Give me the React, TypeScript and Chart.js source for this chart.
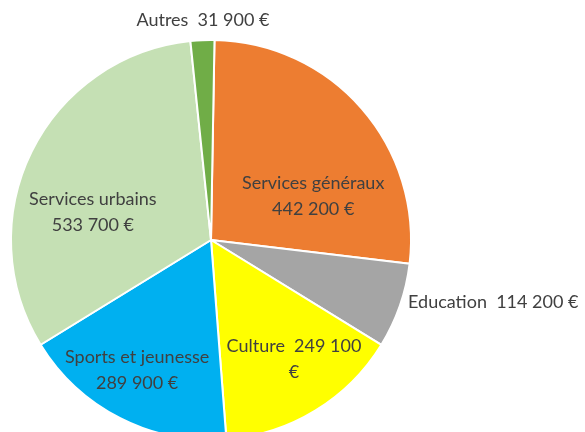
import React, { useEffect, useRef } from "react";
import { Chart, registerables } from "chart.js";

Chart.register(...registerables);

const categories = ["Services généraux", "Education", "Culture", "Sports et jeunesse", "Services urbains", "Autres"];
const values = [442200, 114200, 249100, 289900, 533700, 31900];
const colors = ["#ED7D31", "#A5A5A5", "#FFFF00", "#00B0F0", "#C5E0B4", "#70AD47"];

// label lines and polar placement (degrees clockwise from top, radius fraction)
const labelLines = [
  ["Services généraux", "442 200 €"],
  ["Education  114 200 €"],
  ["Culture  249 100", "€"],
  ["Sports et jeunesse", "289 900 €"],
  ["Services urbains", "533 700 €"],
  ["Autres  31 900 €"],
];
const labelPolar = [
  [67, 0.555],
  [102.4, 1.445],
  [145.1, 0.725],
  [209.6, 0.748],
  [283.3, 0.607],
  [357.9, 1.1],
];

const labelPlugin = {
  id: "sliceLabels",
  afterDatasetsDraw(chart: any) {
    const ctx = chart.ctx;
    const meta = chart.getDatasetMeta(0);
    ctx.save();
    ctx.font = "18px Lato";
    ctx.fillStyle = "#404040";
    ctx.textAlign = "center";
    ctx.textBaseline = "middle";
    const lh = 26;
    meta.data.forEach((arc: any, i: number) => {
      const { x, y, outerRadius } = arc.getProps(["x", "y", "outerRadius"], true);
      const [deg, rf] = labelPolar[i];
      const a = (deg * Math.PI) / 180;
      const cx = x + Math.sin(a) * rf * outerRadius;
      const cy = y - Math.cos(a) * rf * outerRadius;
      const lines = labelLines[i];
      const y0 = cy - ((lines.length - 1) * lh) / 2;
      lines.forEach((t, k) => ctx.fillText(t, cx, y0 + k * lh));
    });
    ctx.restore();
  },
};

export default function App() {
  const ref = useRef<HTMLCanvasElement>(null);
  useEffect(() => {
    const chart = new Chart(ref.current!, {
      type: "pie",
      data: {
        labels: categories,
        datasets: [
          {
            data: values,
            backgroundColor: colors,
            borderColor: "#FFFFFF",
            borderWidth: 2,
          },
        ],
      },
      options: {
        responsive: false,
        animation: false,
        rotation: 1,
        layout: { padding: { left: 10, right: 173, top: 39, bottom: 9 } },
        plugins: {
          legend: { display: false },
          tooltip: { enabled: false },
        },
      },
      plugins: [labelPlugin],
    });
    return () => chart.destroy();
  }, []);
  return (
    <div style={{ position: "fixed", left: 0, top: 0, width: 585, height: 432, overflow: "hidden", background: "#fff" }}>
      <canvas ref={ref} width={585} height={450} style={{ width: 585, height: 450 }} />
    </div>
  );
}
